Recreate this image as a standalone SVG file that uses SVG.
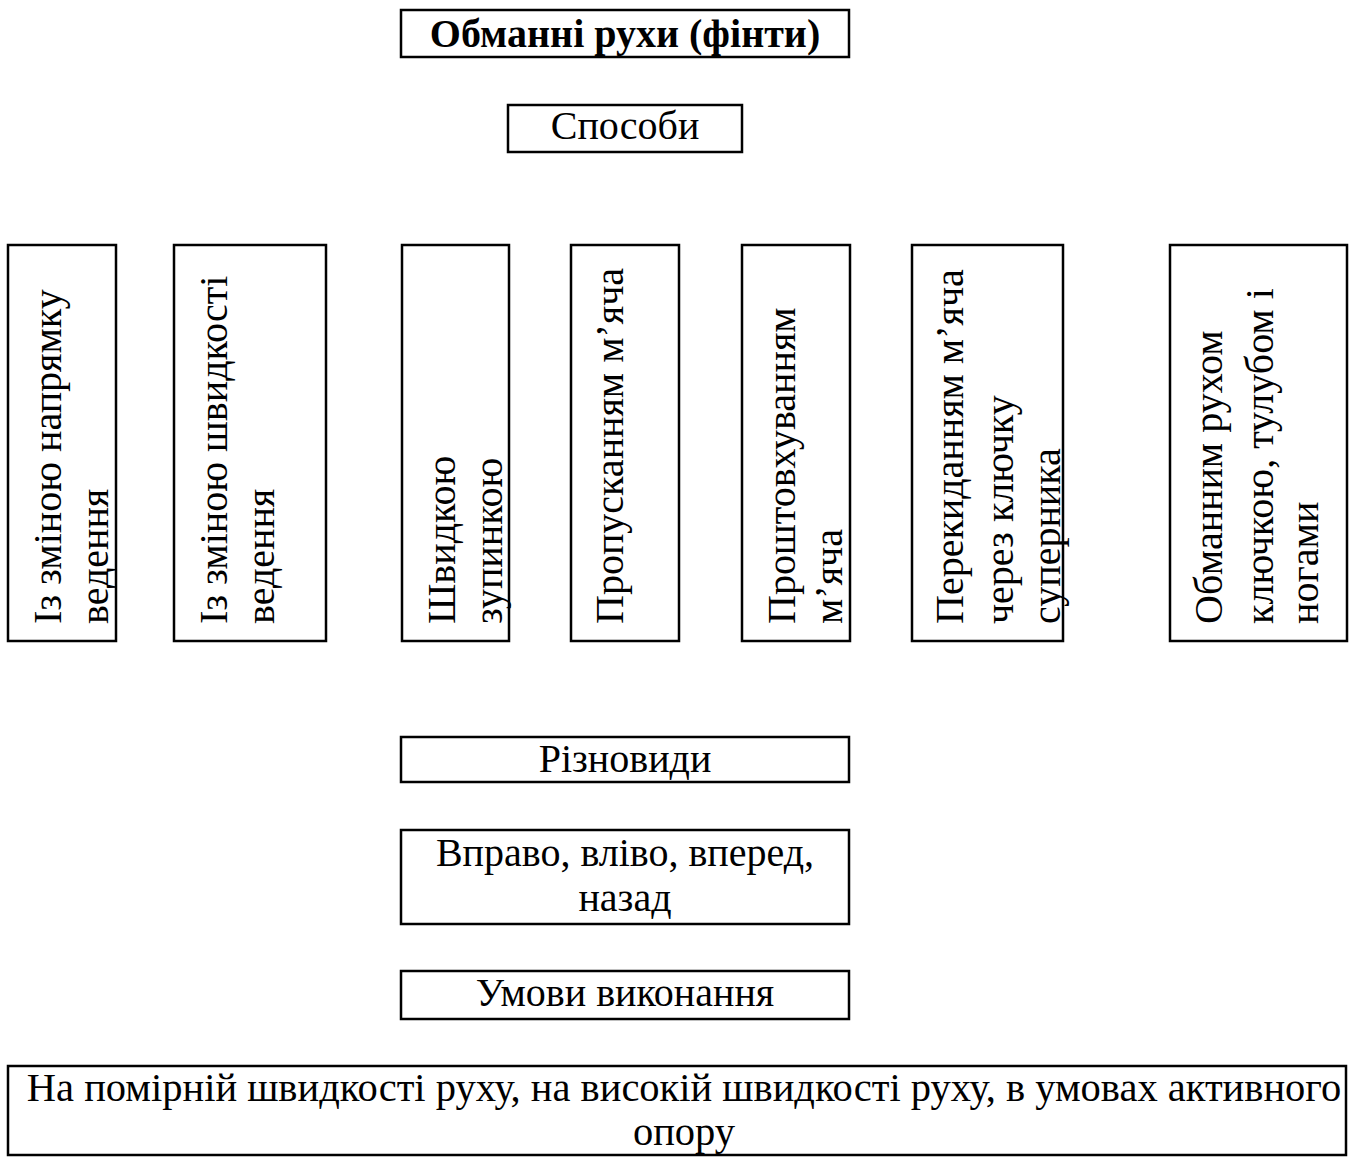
<svg xmlns="http://www.w3.org/2000/svg" width="1360" height="1157" viewBox="0 0 1360 1157">
  <style>
    .box { fill: #fff; stroke: #000; stroke-width: 2.5; }
    .h { font-family: "Liberation Serif", "Times New Roman", serif; font-size: 40px; fill: #000; text-anchor: middle; }
    .v { font-family: "Liberation Serif", "Times New Roman", serif; font-size: 40px; fill: #000; }
    .title { font-weight: bold; }
  </style>
  <rect width="1360" height="1157" fill="#fff"/>

  <g id="title">
    <rect class="box" x="401" y="10" width="448" height="47"/>
    <text class="h title" x="625" y="47">Обманні рухи (фінти)</text>
  </g>

  <g id="ways">
    <rect class="box" x="508" y="105" width="234" height="47"/>
    <text class="h" x="625" y="139">Способи</text>
  </g>

  <g id="way-direction">
    <rect class="box" x="8" y="245" width="108" height="396"/>
    <text class="v" transform="translate(61,624) rotate(-90)">Із зміною напрямку</text>
    <text class="v" transform="translate(108,624) rotate(-90)">ведення</text>
  </g>

  <g id="way-speed">
    <rect class="box" x="174" y="245" width="152" height="396"/>
    <text class="v" transform="translate(227,624) rotate(-90)">Із зміною швидкості</text>
    <text class="v" transform="translate(274,624) rotate(-90)">ведення</text>
  </g>

  <g id="way-stop">
    <rect class="box" x="402" y="245" width="107" height="396"/>
    <text class="v" transform="translate(455,624) rotate(-90)">Швидкою</text>
    <text class="v" transform="translate(502,624) rotate(-90)">зупинкою</text>
  </g>

  <g id="way-letpass">
    <rect class="box" x="571" y="245" width="108" height="396"/>
    <text class="v" transform="translate(623,624) rotate(-90)">Пропусканням м’яча</text>
  </g>

  <g id="way-push">
    <rect class="box" x="742" y="245" width="108" height="396"/>
    <text class="v" transform="translate(795,624) rotate(-90)">Проштовхуванням</text>
    <text class="v" transform="translate(842,624) rotate(-90)">м’яча</text>
  </g>

  <g id="way-lift">
    <rect class="box" x="912" y="245" width="151" height="396"/>
    <text class="v" transform="translate(963,624) rotate(-90)">Перекиданням м’яча</text>
    <text class="v" transform="translate(1013,624) rotate(-90)">через ключку</text>
    <text class="v" transform="translate(1060,624) rotate(-90)">суперника</text>
  </g>

  <g id="way-feint">
    <rect class="box" x="1170" y="245" width="177" height="396"/>
    <text class="v" transform="translate(1222,624) rotate(-90)">Обманним рухом</text>
    <text class="v" transform="translate(1273,624) rotate(-90)">ключкою, тулубом і</text>
    <text class="v" transform="translate(1318,624) rotate(-90)">ногами</text>
  </g>

  <g id="kinds">
    <rect class="box" x="401" y="737" width="448" height="45"/>
    <text class="h" x="625" y="772">Різновиди</text>
  </g>

  <g id="kinds-list">
    <rect class="box" x="401" y="830" width="448" height="94"/>
    <text class="h" x="625" y="866">Вправо, вліво, вперед,</text>
    <text class="h" x="625" y="911">назад</text>
  </g>

  <g id="conditions">
    <rect class="box" x="401" y="971" width="448" height="48"/>
    <text class="h" x="625" y="1006">Умови виконання</text>
  </g>

  <g id="conditions-list">
    <rect class="box" x="8" y="1066" width="1338" height="89"/>
    <text class="h" x="684" y="1101" style="font-size:40.5px">На помірній швидкості руху, на високій швидкості руху, в умовах активного</text>
    <text class="h" x="684" y="1145" style="font-size:40.5px">опору</text>
  </g>

  <g id="connectors"/>
</svg>
